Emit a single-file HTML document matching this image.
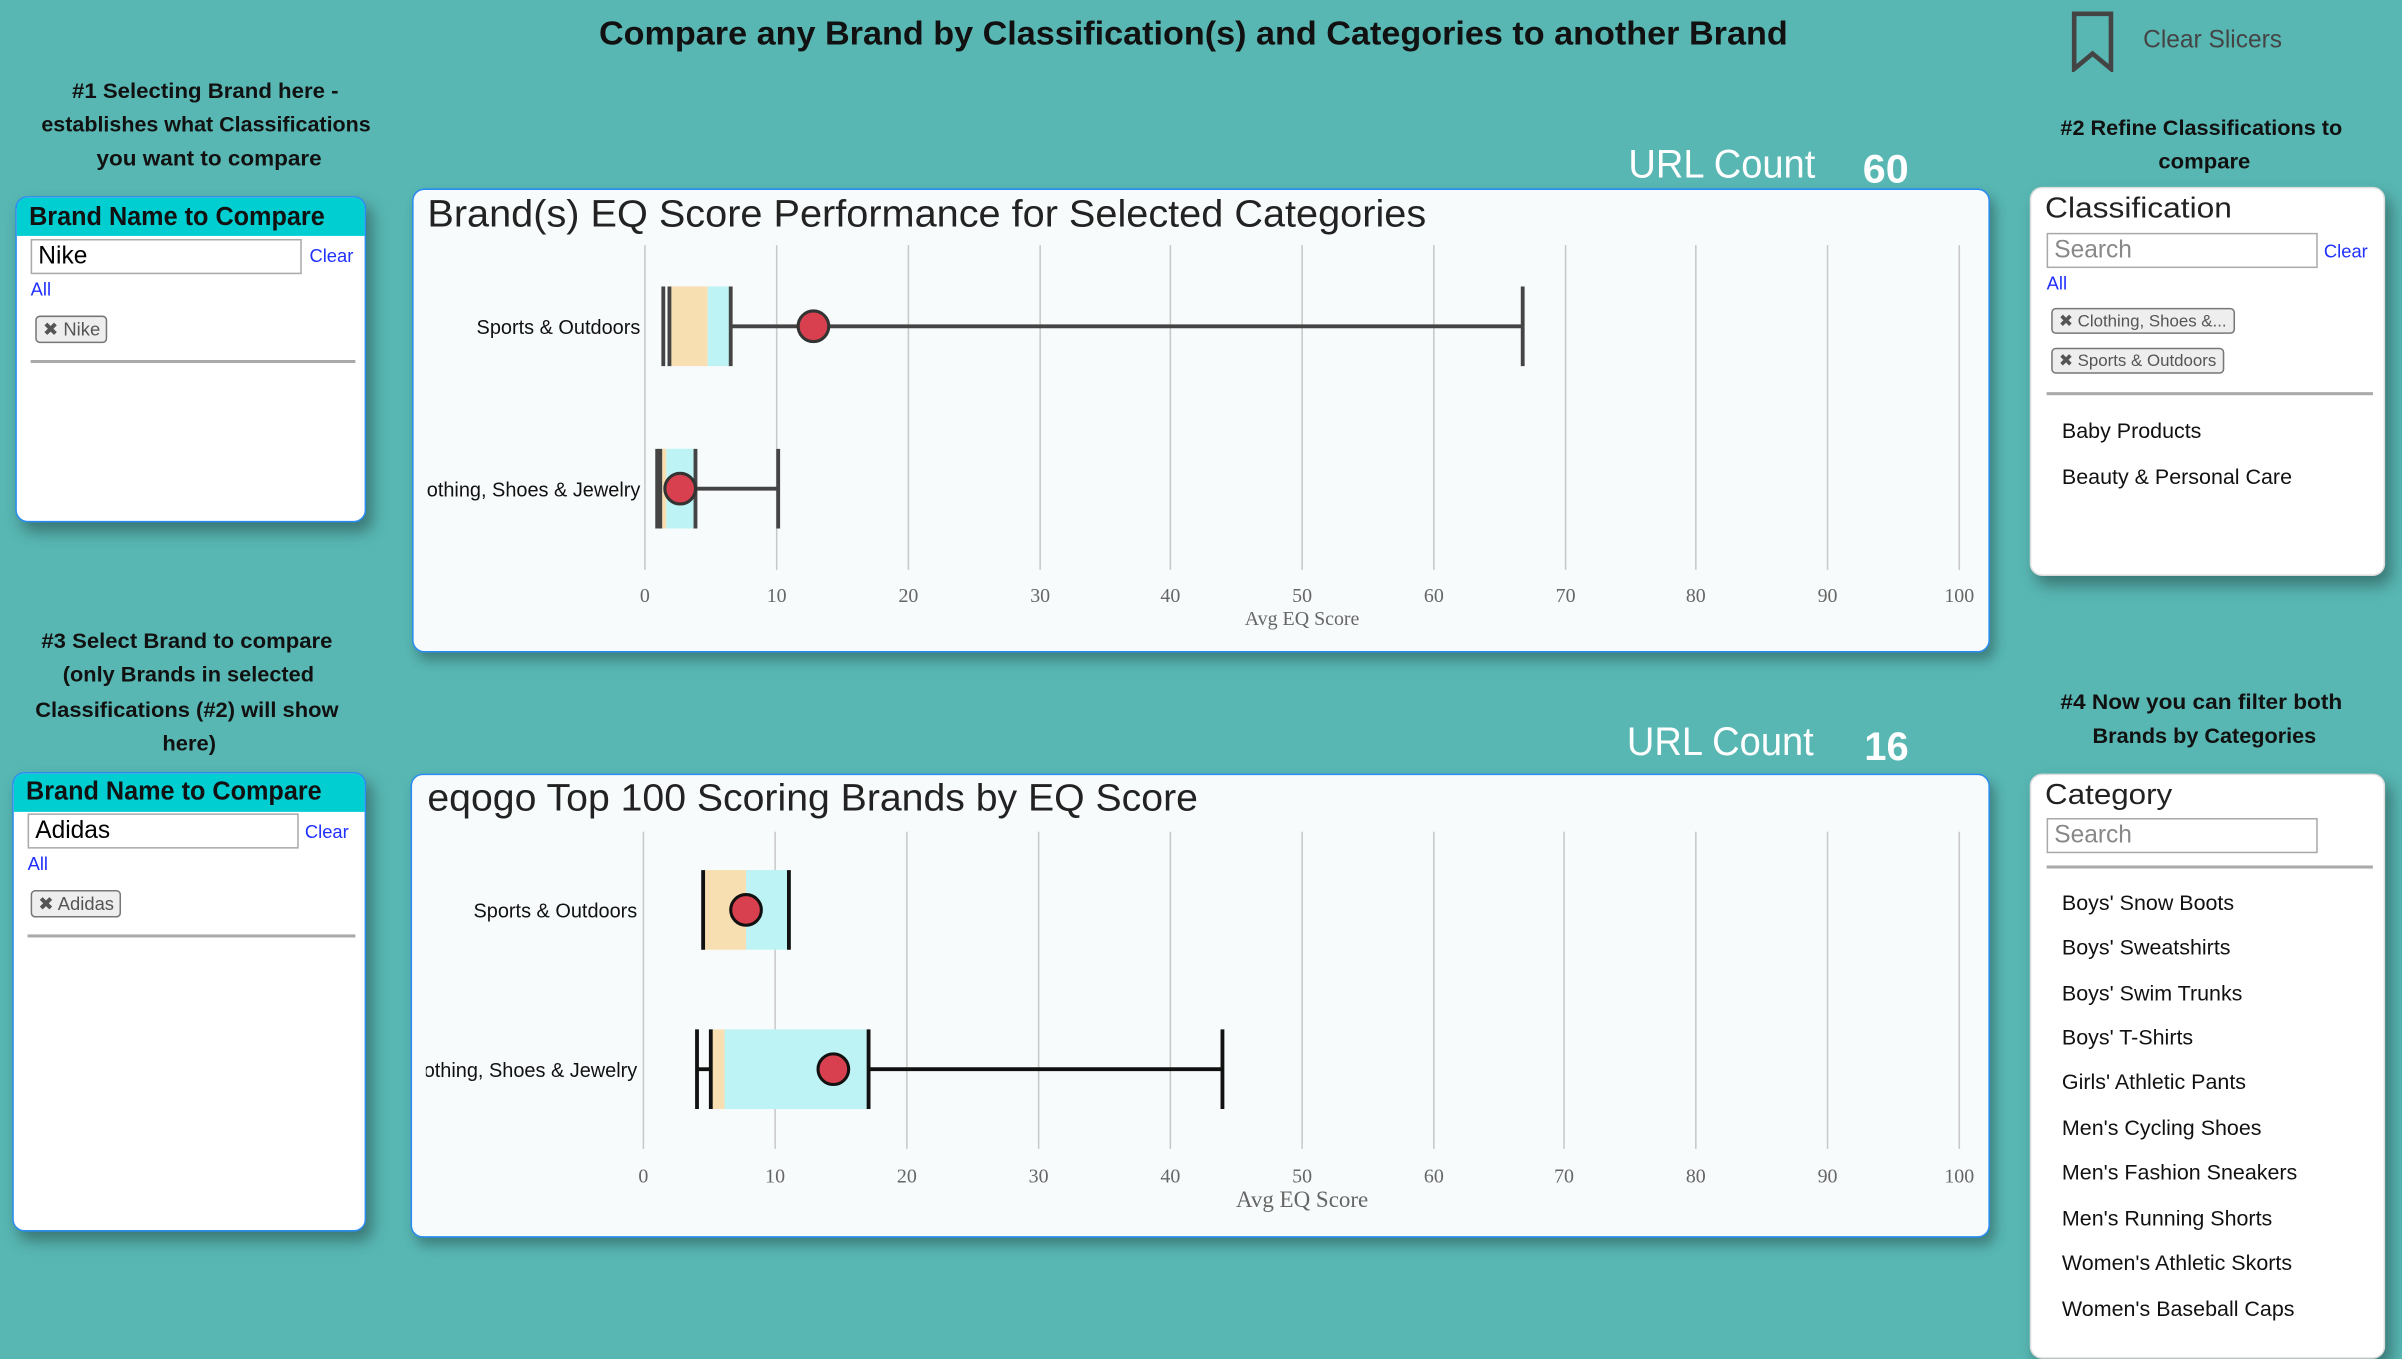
<!DOCTYPE html>
<html><head><meta charset="utf-8"><style>
html,body{margin:0;padding:0;background:#58b7b3;overflow:hidden;width:2402px;height:1348px}
#w{position:absolute;left:0;top:0;width:1568px;height:880px;transform:scale(1.53189,1.53182);transform-origin:0 0;font-family:"Liberation Sans",sans-serif}
.a{position:absolute}
.pan{position:absolute;background:#fff;border:1px solid #2a8cf0;border-radius:8px;box-shadow:4px 6px 10px rgba(0,0,0,.35);overflow:hidden}
.hd{background:#00ced1;height:25px}
.inp{position:absolute;border:1px solid #aaa;height:21px;font-size:16px;padding-left:4px;line-height:21px;color:#000}
.blue{color:#2030ff;font-size:12px;position:absolute}
.chip{position:absolute;border:1px solid #777;border-radius:3px;background:#eee;color:#555;font-size:12px;padding:1px 4px}
.hr{position:absolute;height:2px;background:#aaa}
.chart{position:absolute;background:#f7fbfb;border:1px solid #2a8cf0;border-radius:8px;box-shadow:3px 5px 8px rgba(0,0,0,.3)}
.li{position:absolute;left:20px;font-size:14px;color:#111}
</style></head><body><div id="w">
<svg class="a" style="left:1352px;top:7px" width="28" height="40"><path d="M2 2 H26 V38 L14 28 L2 38 Z" fill="none" stroke="#444" stroke-width="3"/></svg>
<div class="a" style="left:1399px;top:18px;font-size:16px;color:#444">Clear Slicers</div>

<div class="pan" style="left:10px;top:128px;width:227px;height:211px">
<div class="hd"></div>
<div class="inp" style="left:9px;top:27px;width:171px">Nike</div>
<div class="blue" style="left:191px;top:31px">Clear</div>
<div class="blue" style="left:9px;top:53px">All</div>
<div class="chip" style="left:12px;top:77px">✖ Nike</div>
<div class="hr" style="left:9px;top:106px;width:212px"></div>
</div>
<div class="pan" style="left:8px;top:504px;width:229px;height:298px">
<div class="hd"></div>
<div class="inp" style="left:9px;top:26px;width:171px">Adidas</div>
<div class="blue" style="left:190px;top:31px">Clear</div>
<div class="blue" style="left:9px;top:52px">All</div>
<div class="chip" style="left:11px;top:76px">✖ Adidas</div>
<div class="hr" style="left:9px;top:105px;width:214px"></div>
</div>

<div class="pan" style="left:1325px;top:122px;width:230px;height:252px;border-color:#ddd">
<div class="inp" style="left:10px;top:29px;width:171px;color:#888">Search</div>
<div class="blue" style="left:191px;top:34px">Clear</div>
<div class="blue" style="left:10px;top:55px">All</div>
<div class="chip" style="left:13px;top:78px;font-size:11px">✖ Clothing, Shoes &amp;...</div>
<div class="chip" style="left:13px;top:104px;font-size:11px">✖ Sports &amp; Outdoors</div>
<div class="hr" style="left:10px;top:133px;width:213px"></div>
<div class="li" style="top:150px">Baby Products</div>
<div class="li" style="top:180px">Beauty &amp; Personal Care</div>
</div>
<div class="pan" style="left:1325px;top:505px;width:230px;height:380px;border-color:#ddd">
<div class="inp" style="left:10px;top:28px;width:171px;color:#888">Search</div>
<div class="hr" style="left:10px;top:59px;width:213px"></div>
<div class="li" style="top:75px">Boys' Snow Boots</div>
<div class="li" style="top:104px">Boys' Sweatshirts</div>
<div class="li" style="top:134px">Boys' Swim Trunks</div>
<div class="li" style="top:163px">Boys' T-Shirts</div>
<div class="li" style="top:192px">Girls' Athletic Pants</div>
<div class="li" style="top:222px">Men's Cycling Shoes</div>
<div class="li" style="top:251px">Men's Fashion Sneakers</div>
<div class="li" style="top:281px">Men's Running Shorts</div>
<div class="li" style="top:310px">Women's Athletic Skorts</div>
<div class="li" style="top:340px">Women's Baseball Caps</div>
</div>

<div class="chart" style="left:269px;top:123px;width:1028px;height:301px"></div>
<div class="chart" style="left:268px;top:505px;width:1029px;height:301px"></div>

<svg class="a" style="left:0;top:0" width="1568" height="880" font-family="Liberation Sans, sans-serif">
<g font-weight="bold" fill="#111">
<text x="391" y="29" font-size="22" textLength="776" lengthAdjust="spacingAndGlyphs">Compare any Brand by Classification(s) and Categories to another Brand</text>
<g font-size="14">
<text x="47" y="64" textLength="174" lengthAdjust="spacingAndGlyphs">#1 Selecting Brand here -</text>
<text x="27" y="86" textLength="215" lengthAdjust="spacingAndGlyphs">establishes what Classifications</text>
<text x="63" y="108" textLength="147" lengthAdjust="spacingAndGlyphs">you want to compare</text>
<text x="27" y="423" textLength="190" lengthAdjust="spacingAndGlyphs">#3 Select Brand to compare</text>
<text x="41" y="445" textLength="164" lengthAdjust="spacingAndGlyphs">(only Brands in selected</text>
<text x="23" y="468" textLength="198" lengthAdjust="spacingAndGlyphs">Classifications (#2) will show</text>
<text x="106" y="490" textLength="35" lengthAdjust="spacingAndGlyphs">here)</text>
<text x="1345" y="88" textLength="184" lengthAdjust="spacingAndGlyphs">#2 Refine Classifications to</text>
<text x="1409" y="110" textLength="60" lengthAdjust="spacingAndGlyphs">compare</text>
<text x="1345" y="463" textLength="184" lengthAdjust="spacingAndGlyphs">#4 Now you can filter both</text>
<text x="1366" y="485" textLength="146" lengthAdjust="spacingAndGlyphs">Brands by Categories</text>
</g>
<text x="19" y="147" font-size="17" textLength="193" lengthAdjust="spacingAndGlyphs">Brand Name to Compare</text>
<text x="17" y="522" font-size="17" textLength="193" lengthAdjust="spacingAndGlyphs">Brand Name to Compare</text>
</g>
<g fill="#222">
<text x="279" y="148" font-size="25" textLength="652" lengthAdjust="spacingAndGlyphs">Brand(s) EQ Score Performance for Selected Categories</text>
<text x="279" y="529" font-size="25" textLength="503" lengthAdjust="spacingAndGlyphs">eqogo Top 100 Scoring Brands by EQ Score</text>
<text x="1335" y="142" font-size="19" textLength="122" lengthAdjust="spacingAndGlyphs">Classification</text>
<text x="1335" y="525" font-size="19" textLength="83" lengthAdjust="spacingAndGlyphs">Category</text>
</g>
<g fill="#fff" font-size="26">
<text x="1063" y="116" textLength="122" lengthAdjust="spacingAndGlyphs">URL Count</text>
<text x="1216" y="119" font-weight="bold" textLength="30" lengthAdjust="spacingAndGlyphs">60</text>
<text x="1062" y="493" textLength="122" lengthAdjust="spacingAndGlyphs">URL Count</text>
<text x="1217" y="496" font-weight="bold" textLength="29" lengthAdjust="spacingAndGlyphs">16</text>
</g>
<g stroke="#c8c8c8" stroke-width="1">
<line x1="421" y1="160" x2="421" y2="372"/><line x1="507" y1="160" x2="507" y2="372"/><line x1="593" y1="160" x2="593" y2="372"/><line x1="679" y1="160" x2="679" y2="372"/><line x1="764" y1="160" x2="764" y2="372"/><line x1="850" y1="160" x2="850" y2="372"/><line x1="936" y1="160" x2="936" y2="372"/><line x1="1022" y1="160" x2="1022" y2="372"/><line x1="1107" y1="160" x2="1107" y2="372"/><line x1="1193" y1="160" x2="1193" y2="372"/><line x1="1279" y1="160" x2="1279" y2="372"/>
<line x1="420" y1="543" x2="420" y2="750"/><line x1="506" y1="543" x2="506" y2="750"/><line x1="592" y1="543" x2="592" y2="750"/><line x1="678" y1="543" x2="678" y2="750"/><line x1="764" y1="543" x2="764" y2="750"/><line x1="850" y1="543" x2="850" y2="750"/><line x1="936" y1="543" x2="936" y2="750"/><line x1="1021" y1="543" x2="1021" y2="750"/><line x1="1107" y1="543" x2="1107" y2="750"/><line x1="1193" y1="543" x2="1193" y2="750"/><line x1="1279" y1="543" x2="1279" y2="750"/>
</g>
<g font-size="13" fill="#666" text-anchor="middle" font-family="Liberation Serif, serif">
<text x="421" y="393">0</text><text x="507" y="393">10</text><text x="593" y="393">20</text><text x="679" y="393">30</text><text x="764" y="393">40</text><text x="850" y="393">50</text><text x="936" y="393">60</text><text x="1022" y="393">70</text><text x="1107" y="393">80</text><text x="1193" y="393">90</text><text x="1279" y="393">100</text>
<text x="850" y="408">Avg EQ Score</text>
<text x="420" y="772">0</text><text x="506" y="772">10</text><text x="592" y="772">20</text><text x="678" y="772">30</text><text x="764" y="772">40</text><text x="850" y="772">50</text><text x="936" y="772">60</text><text x="1021" y="772">70</text><text x="1107" y="772">80</text><text x="1193" y="772">90</text><text x="1279" y="772">100</text>
<text x="850" y="788" font-size="15">Avg EQ Score</text>
</g>
<g font-size="13" fill="#111" text-anchor="end">
<text x="418" y="218">Sports &amp; Outdoors</text>
<text x="416" y="599">Sports &amp; Outdoors</text>
</g>
<clipPath id="c1"><rect x="279" y="300" width="200" height="40"/></clipPath>
<clipPath id="c2"><rect x="278" y="680" width="200" height="40"/></clipPath>
<text x="418" y="324" clip-path="url(#c1)" font-size="13" fill="#111" text-anchor="end">Clothing, Shoes &amp; Jewelry</text>
<text x="416" y="703" clip-path="url(#c2)" font-size="13" fill="#111" text-anchor="end">Clothing, Shoes &amp; Jewelry</text>
<rect x="437" y="187" width="25" height="52" fill="#f7dfb2"/><rect x="462" y="187" width="15" height="52" fill="#bef3f5"/>
<g stroke="#444" stroke-width="2.5"><line x1="433" y1="187" x2="433" y2="239"/><line x1="437" y1="187" x2="437" y2="239"/><line x1="477" y1="187" x2="477" y2="239"/><line x1="994" y1="187" x2="994" y2="239"/><line x1="477" y1="213" x2="994" y2="213"/></g>
<circle cx="531" cy="213" r="10" fill="#d9404f" stroke="#333" stroke-width="2"/>
<rect x="431" y="293" width="4" height="52" fill="#f7dfb2"/><rect x="435" y="293" width="19" height="52" fill="#bef3f5"/>
<g stroke="#444" stroke-width="2.5"><line x1="429" y1="293" x2="429" y2="345"/><line x1="431" y1="293" x2="431" y2="345"/><line x1="454" y1="293" x2="454" y2="345"/><line x1="508" y1="293" x2="508" y2="345"/><line x1="454" y1="319" x2="508" y2="319"/></g>
<circle cx="444" cy="319" r="10" fill="#d9404f" stroke="#333" stroke-width="2"/>
<rect x="459" y="568" width="28" height="52" fill="#f7dfb2"/><rect x="487" y="568" width="28" height="52" fill="#bef3f5"/>
<g stroke="#111" stroke-width="2.5"><line x1="459" y1="568" x2="459" y2="620"/><line x1="515" y1="568" x2="515" y2="620"/></g>
<circle cx="487" cy="594" r="10" fill="#d9404f" stroke="#111" stroke-width="2"/>
<rect x="464" y="672" width="9" height="52" fill="#f7dfb2"/><rect x="473" y="672" width="94" height="52" fill="#bef3f5"/>
<g stroke="#111" stroke-width="2.5"><line x1="455" y1="672" x2="455" y2="724"/><line x1="464" y1="672" x2="464" y2="724"/><line x1="567" y1="672" x2="567" y2="724"/><line x1="798" y1="672" x2="798" y2="724"/><line x1="567" y1="698" x2="798" y2="698"/><line x1="455" y1="698" x2="464" y2="698"/></g>
<circle cx="544" cy="698" r="10" fill="#d9404f" stroke="#111" stroke-width="2"/>
</svg>
</div></body></html>
